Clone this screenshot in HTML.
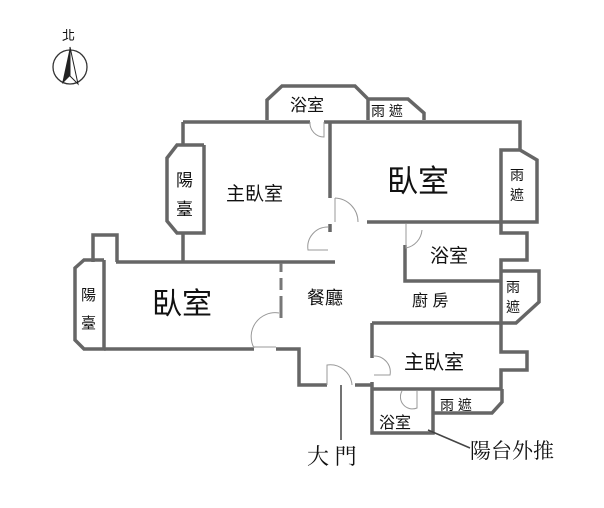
<!DOCTYPE html><html><head><style>body{margin:0;background:#fff}svg{display:block}text{font-family:"Liberation Sans","Noto Sans CJK TC",sans-serif;fill:#111}</style></head><body>
<svg width="604" height="508" viewBox="0 0 604 508" xmlns="http://www.w3.org/2000/svg">
<g fill="none" stroke="#666" stroke-width="3.5" stroke-linejoin="miter">
<polyline points="267,120 267,100 282,86 355,86 368,99 368,120"/>
<polyline points="369,99 408,99 424,113 424,120"/>
<polyline points="183,122 310,122"/><polyline points="324,122 520,122 520,150"/>
<polyline points="183,122 183,145"/>
<polyline points="204,145 177,145 167,158 167,221 177,233 204,233 204,145"/>
<polyline points="183,233 183,262"/>
<polyline points="330,122 330,198"/><polyline points="330,224 330,232"/>
<polyline points="116,262 335,262"/>
<polyline points="93,262 93,235 117,235 117,262"/>
<polyline points="104,260 84,260 75,268 75,340 84,349 104,349 104,260"/>
<polyline points="104,349 254,349"/><polyline points="276,349 299,349 299,385 327,385"/>
<polyline points="355,385 372,385"/>
<polyline points="367,222 537,222 537,160 520,150 501,150 501,222"/>
<polyline points="501,222 501,233 527,233 527,260 501,260 501,271 539,271 539,302 516,323 501,323 501,271"/>
<polyline points="405,245 405,281 501,281"/>
<polyline points="372,323 501,323"/>
<polyline points="372,323 372,358"/><polyline points="372,382 372,433 433,433 433,389"/>
<polyline points="501,323 501,352 527,352 527,370 501,370 501,389 372,389"/>
<polyline points="433,413 492,413 502,402 502,389"/>
</g>
<g stroke="#777" stroke-width="3"><line x1="281" y1="263" x2="281" y2="272"/><line x1="281" y1="278" x2="281" y2="290"/><line x1="281" y1="296" x2="281" y2="318"/></g>
<g fill="none" stroke="#999" stroke-width="1">
<path d="M310,122 A14,14 0 0 0 324,137 L324,122"/>
<path d="M335,198 A24,24 0 0 1 358,222"/><line x1="335" y1="198" x2="335" y2="222"/>
<path d="M328,227 A20,20 0 0 0 308,250 L328,250"/>
<path d="M279,313 A24,24 0 0 0 254,348"/><line x1="254" y1="347" x2="276" y2="347"/>
<path d="M327,385 L327,365 A22,22 0 0 1 352,385"/>
<path d="M406,224 L406,248 A20,20 0 0 0 422,230"/>
<path d="M374,356 A16,16 0 0 1 390,375 L374,375"/>
<path d="M402,391 A12,12 0 0 0 417,408 L417,391"/>
</g>
<line x1="341" y1="385" x2="341" y2="440" stroke="#444" stroke-width="1.5"/>
<line x1="428" y1="430" x2="470" y2="448" stroke="#444" stroke-width="1.5"/>
<g font-size="18">
<text x="290" y="111" font-size="17">浴室</text>
<text x="371" y="116" font-size="14">雨 遮</text>
<text x="226" y="200" font-size="19">主臥室</text>
<text x="176" y="186" font-size="17">陽</text><text x="176" y="215" font-size="17">臺</text>
<text x="387" y="192" font-size="31">臥室</text>
<text x="510" y="180" font-size="14">雨</text><text x="510" y="200" font-size="14">遮</text>
<text x="430" y="262" font-size="19">浴室</text>
<text x="506" y="292" font-size="14">雨</text><text x="506" y="312" font-size="14">遮</text>
<text x="307" y="304" font-size="18">餐廳</text>
<text x="412" y="306" font-size="16">廚 房</text>
<text x="152" y="314" font-size="30">臥室</text>
<text x="81" y="300" font-size="15">陽</text><text x="81" y="328" font-size="15">臺</text>
<text x="404" y="369" font-size="20">主臥室</text>
<text x="440" y="410" font-size="14">雨 遮</text>
<text x="379" y="428" font-size="16">浴室</text>
<text x="307" y="464" font-size="22" style="font-family:'Noto Serif CJK SC',serif">大 門</text>
<text x="470" y="458" font-size="21" style="font-family:'Noto Serif CJK SC',serif">陽台外推</text>
<text x="62" y="40" font-size="13">北</text>
</g>
<circle cx="70" cy="67" r="17" fill="none" stroke="#333" stroke-width="1.3"/>
<polygon points="70,47 62,84 70,76" fill="#222"/><polygon points="70,47 78,84 70,76" fill="none" stroke="#222"/>
</svg></body></html>
